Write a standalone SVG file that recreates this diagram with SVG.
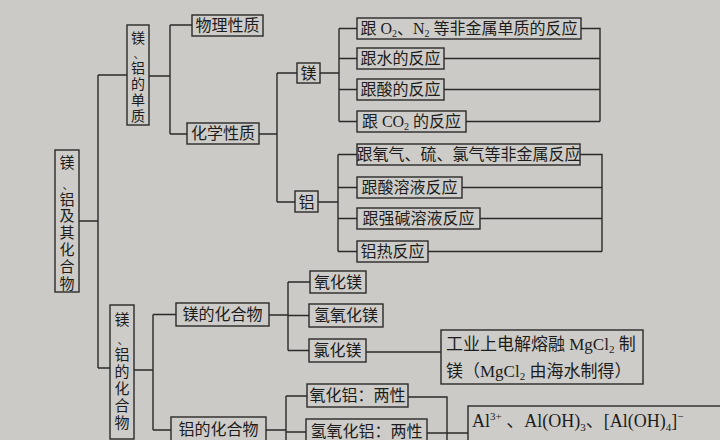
<svg xmlns="http://www.w3.org/2000/svg" width="720" height="440" viewBox="0 0 720 440">
<style>
.bg{fill:#cbcac6}
.box{fill:#cdccc8;stroke:#2a2a2a;stroke-width:1.4}
.ln{fill:none;stroke:#2a2a2a;stroke-width:1.4}
.t{font-family:"Liberation Serif","Noto Sans CJK SC",serif;font-size:16px;fill:#1c1c1c}
.v{font-size:15px}
.c{text-anchor:middle}
.s{font-size:10px}
.dun{font-size:11px}
</style>
<rect class="bg" x="0" y="0" width="720" height="440"/>

<g id="connectors">
<path class="ln" d="M79,221H98 M98,75V368 M98,75H127 M98,368H110"/>
<path class="ln" d="M149,76H170 M170,25V134 M170,25H192 M170,134H187"/>
<path class="ln" d="M259,134H277 M277,73V202 M277,73H297 M277,202H295"/>
<path class="ln" d="M320,73H339 M339,28.5V121.5 M339,28.5H357 M339,58.5H357 M339,89.5H357 M339,121.5H357"/>
<path class="ln" d="M581,28.5H600V121.5 M444,58.5H600 M444,89.5H600 M466,121.5H600"/>
<path class="ln" d="M318,202H338 M338,154.5V251.5 M338,154.5H357 M338,187.5H357 M338,218.5H357 M338,251.5H357"/>
<path class="ln" d="M580,154.5H602V251.5 M462,187.5H602 M480,218.5H602 M428,251.5H602"/>
<path class="ln" d="M134,370H153 M153,314.5V430 M153,314.5H176 M153,430H171"/>
<path class="ln" d="M269,315H288 M288,282V350.5 M288,282H310 M288,315.5H309 M288,350.5H309 M366,352H441"/>
<path class="ln" d="M266,430H286 M286,396V440 M286,396H307 M286,432H306 M408,397H447V440 M427,433H468"/>
</g>

<g id="root">
<rect class="box" x="55" y="150" width="24" height="142"/>
<text class="t v c"><tspan x="67" y="168">镁</tspan><tspan class="dun" x="68" y="188.5">、</tspan><tspan x="67" y="204.5">铝</tspan><tspan x="67" y="221.3">及</tspan><tspan x="67" y="238.1">其</tspan><tspan x="67" y="254.9">化</tspan><tspan x="67" y="271.7">合</tspan><tspan x="67" y="288.5">物</tspan></text>
</g>

<g id="danzhi">
<rect class="box" x="127" y="25" width="22" height="100"/>
<text class="t c" style="font-size:14px"><tspan x="138" y="43">镁</tspan><tspan class="dun" x="139" y="58">、</tspan><tspan x="138" y="73">铝</tspan><tspan x="138" y="89">的</tspan><tspan x="138" y="105">单</tspan><tspan x="138" y="121">质</tspan></text>
</g>

<g id="wuli"><rect class="box" x="192" y="15" width="71" height="21"/><text class="t c" x="227.5" y="31">物理性质</text></g>
<g id="huaxue"><rect class="box" x="187" y="123" width="72" height="21"/><text class="t c" x="223" y="139">化学性质</text></g>
<g id="mg"><rect class="box" x="297" y="63" width="23" height="20"/><text class="t c" x="308.5" y="79">镁</text></g>
<g id="al"><rect class="box" x="295" y="191" width="23" height="21"/><text class="t c" x="306.5" y="207.5">铝</text></g>

<g id="mg1"><rect class="box" x="357" y="18" width="224" height="21"/><text class="t c" x="469" y="34">跟 O<tspan class="s" dy="3">2</tspan><tspan dy="-3">、N</tspan><tspan class="s" dy="3">2</tspan><tspan dy="-3"> 等非金属单质的反应</tspan></text></g>
<g id="mg2"><rect class="box" x="357" y="48" width="87" height="21"/><text class="t c" x="400.5" y="64">跟水的反应</text></g>
<g id="mg3"><rect class="box" x="357" y="79" width="87" height="21"/><text class="t c" x="400.5" y="95">跟酸的反应</text></g>
<g id="mg4"><rect class="box" x="357" y="111" width="109" height="21"/><text class="t c" x="411.5" y="127">跟 CO<tspan class="s" dy="3">2</tspan><tspan dy="-3"> 的反应</tspan></text></g>

<g id="al1"><rect class="box" x="357" y="144" width="223" height="21"/><text class="t c" x="468.5" y="160">跟氧气、硫、氯气等非金属反应</text></g>
<g id="al2"><rect class="box" x="357" y="177" width="105" height="21"/><text class="t c" x="409.5" y="193">跟酸溶液反应</text></g>
<g id="al3"><rect class="box" x="357" y="208" width="123" height="21"/><text class="t c" x="418.5" y="224">跟强碱溶液反应</text></g>
<g id="al4"><rect class="box" x="357" y="241" width="71" height="21"/><text class="t c" x="392.5" y="257">铝热反应</text></g>

<g id="huahewu">
<rect class="box" x="110" y="305" width="24" height="134"/>
<text class="t v c"><tspan x="122" y="325">镁</tspan><tspan class="dun" x="123" y="344">、</tspan><tspan x="122" y="360">铝</tspan><tspan x="122" y="377">的</tspan><tspan x="122" y="394">化</tspan><tspan x="122" y="411">合</tspan><tspan x="122" y="428">物</tspan></text>
</g>

<g id="mghhw"><rect class="box" x="176" y="303" width="93" height="23"/><text class="t c" x="222.5" y="320">镁的化合物</text></g>
<g id="alhhw"><rect class="box" x="171" y="417" width="95" height="30"/><text class="t c" x="218.5" y="435">铝的化合物</text></g>

<g id="mgo"><rect class="box" x="310" y="271" width="56" height="22"/><text class="t c" x="338" y="288">氧化镁</text></g>
<g id="mgoh"><rect class="box" x="309" y="304" width="74" height="23"/><text class="t c" x="346" y="321">氢氧化镁</text></g>
<g id="mgcl"><rect class="box" x="309" y="339" width="57" height="23"/><text class="t c" x="337.5" y="356">氯化镁</text></g>

<g id="gongye">
<rect class="box" x="441" y="330" width="202" height="54"/>
<text class="t" x="446" y="350" style="font-size:17px">工业上电解熔融 MgCl<tspan class="s" dy="3" style="font-size:11px">2</tspan><tspan dy="-3"> 制</tspan></text>
<text class="t" x="446" y="377" style="font-size:17px">镁（MgCl<tspan class="s" dy="3" style="font-size:11px">2</tspan><tspan dy="-3"> 由海水制得）</tspan></text>
</g>

<g id="alo"><rect class="box" x="307" y="384" width="101" height="23"/><text class="t c" x="357.5" y="401">氧化铝：两性</text></g>
<g id="aloh"><rect class="box" x="306" y="419" width="121" height="30"/><text class="t c" x="366.5" y="437">氢氧化铝：两性</text></g>

<g id="alions">
<rect class="box" x="468" y="406" width="262" height="50"/>
<text class="t" x="472" y="427" style="font-size:18px">Al<tspan style="font-size:11px" dy="-7">3+</tspan><tspan dy="7"> 、Al(OH)</tspan><tspan style="font-size:11px" dy="4">3</tspan><tspan dy="-4">、[Al(OH)</tspan><tspan style="font-size:11px" dy="4">4</tspan><tspan dy="-4">]</tspan><tspan style="font-size:11px" dy="-7">−</tspan></text>
</g>
</svg>
